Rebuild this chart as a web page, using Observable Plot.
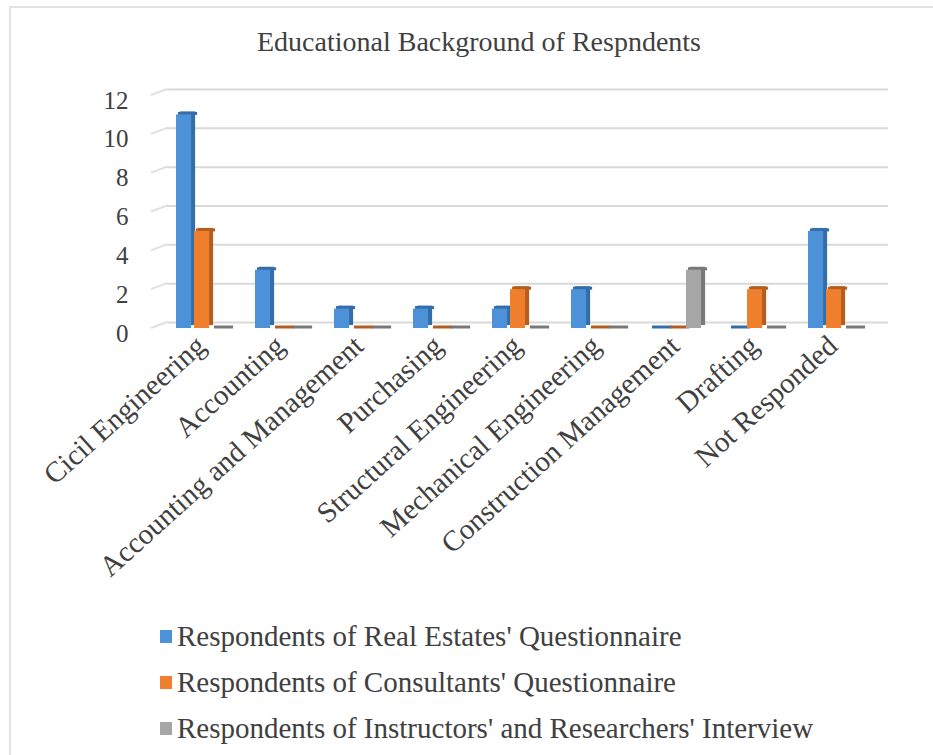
<!DOCTYPE html>
<html>
<head>
<meta charset="utf-8">
<script src="https://cdn.jsdelivr.net/npm/d3@7"></script>
<script src="https://cdn.jsdelivr.net/npm/@observablehq/plot@0.6"></script>
<style>
  html, body { margin: 0; padding: 0; background: #fff; overflow: hidden; }
  #page { position: relative; width: 933px; height: 755px; overflow: hidden; font-family: "Liberation Serif", "DejaVu Serif", serif; color: #404040; }
  #frame { position: absolute; left: 9px; top: 6px; width: 1000px; height: 1000px; border: 2px solid #e2e2e2; box-sizing: border-box; }
  #title { position: absolute; left: 479px; top: 22px; transform: translateX(-50%); font-size: 28px; line-height: 40px; white-space: nowrap; }
  #chart { position: absolute; left: 0; top: 0; }
  #legend { position: absolute; left: 160px; top: 613px; }
  .row { display: flex; align-items: center; height: 46px; font-size: 29px; white-space: nowrap; }
  .sw { width: 12px; height: 13px; margin-right: 5px; }
  #chart svg text { font-family: "Liberation Serif", "DejaVu Serif", serif; }
</style>
</head>
<body>
<div id="page">
  <div id="frame"></div>
  <div id="title">Educational Background of Respndents</div>
  <div id="chart"></div>
  <div id="legend"></div>
</div>
<script>
// Categories of educational background (x axis)
const categories = [
  "Cicil Engineering", "Accounting", "Accounting and Management", "Purchasing",
  "Structural Engineering", "Mechanical Engineering", "Construction Management",
  "Drafting", "Not Responded"
];
// Respondent groups (legend)
const seriesNames = [
  "Respondents of Real Estates' Questionnaire",
  "Respondents of Consultants' Questionnaire",
  "Respondents of Instructors' and Researchers' Interview"
];
// Counts per category for each group
const realEstates = [11, 3, 1, 1, 1, 2, 0, 0, 5];
const consultants = [5, 0, 0, 0, 2, 0, 0, 2, 2];
const instructors = [0, 0, 0, 0, 0, 0, 3, 0, 0];
const yTicks = [0, 2, 4, 6, 8, 10, 12];

// Front face and shaded side/top face colours for each group
const frontColors = ["#4d92d8", "#ef7f2c", "#a6a6a6"];
const sideColors = ["#346ea8", "#b45d1f", "#787878"];

const seriesValues = [realEstates, consultants, instructors];
const rows = seriesValues.map((vals, i) =>
  categories.map((c, j) => ({category: c, series: seriesNames[i], value: vals[j]}))
);

// Layout
const width = 933, height = 600;
const marginLeft = 165, marginRight = 49, marginTop = 95, marginBottom = 272;
const band = (width - marginLeft - marginRight) / categories.length;
const groupPad = 7, slot = 18, faceW = 16, depthX = 4, depthY = 3;

const barMarks = [];
rows.forEach((data, i) => {
  const left = groupPad + i * slot;
  const right = band - left - faceW;
  // thin slab at the value (visible as a flat plate for zero counts)
  barMarks.push(Plot.tickY(data, {
    x: "category", y: "value", stroke: sideColors[i], strokeWidth: 3,
    insetLeft: left, insetRight: right - depthX, dx: depthX / 2, dy: -depthY / 2
  }));
  // shaded depth of the column
  barMarks.push(Plot.barY(data, {
    x: "category", y: "value", fill: sideColors[i],
    insetLeft: left, insetRight: right, dx: depthX, dy: -depthY
  }));
  // front face
  barMarks.push(Plot.barY(data, {
    x: "category", y: "value", fill: frontColors[i],
    insetLeft: left, insetRight: right
  }));
});

const chart = Plot.plot({
  width, height, marginLeft, marginRight, marginTop, marginBottom,
  style: {fontFamily: "Liberation Serif, DejaVu Serif, serif", color: "#404040", background: "transparent"},
  x: {type: "band", domain: categories, padding: 0, label: null},
  y: {domain: [0, 12], label: null},
  marks: [
    Plot.ruleY(yTicks, {stroke: "#d9d9d9", strokeWidth: 2, dy: -6, insetLeft: 2, insetRight: -4}),
    ...barMarks,
    Plot.axisY({ticks: yTicks, tickSize: 0, tickPadding: 37, fontSize: 25, dy: 5, label: null}),
    Plot.axisX({tickSize: 0, tickRotate: -42, tickPadding: 8, fontSize: 29, dx: -8, dy: 5, label: null})
  ]
});

// Slanted floor edges of the back-wall gridlines
const yScale = chart.scale("y");
const svg = d3.select(chart);
svg.insert("g", ":first-child")
  .selectAll("line")
  .data(yTicks)
  .join("line")
  .attr("x1", marginLeft - 14).attr("y1", d => yScale.apply(d))
  .attr("x2", marginLeft + 2).attr("y2", d => yScale.apply(d) - 6)
  .attr("stroke", "#e0e0e0").attr("stroke-width", 2);

document.getElementById("chart").appendChild(chart);

// Legend
const legend = d3.select("#legend");
seriesNames.forEach((name, i) => {
  const row = legend.append("div").attr("class", "row");
  row.append("div").attr("class", "sw").style("background", frontColors[i]);
  row.append("span").text(name);
});
</script>
</body>
</html>
